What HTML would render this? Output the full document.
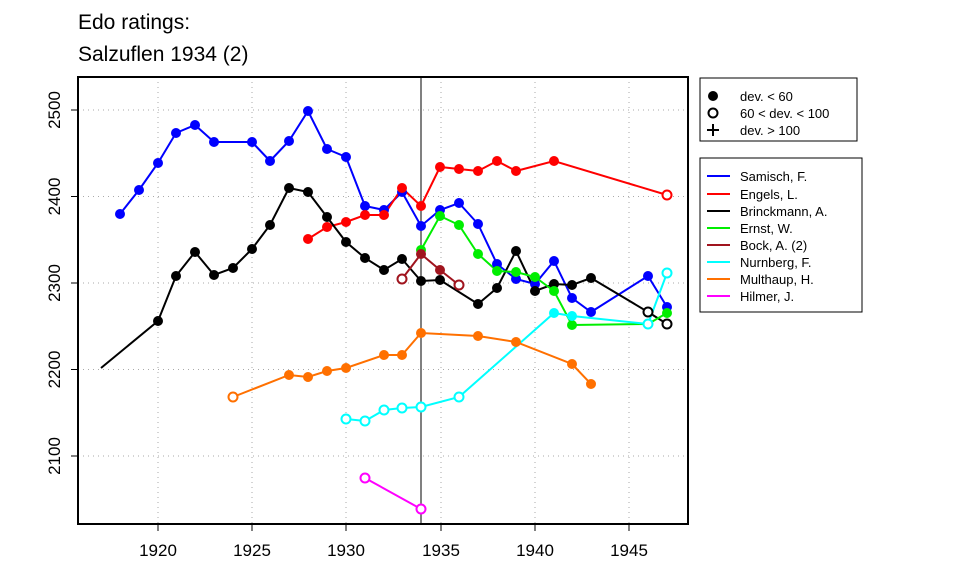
<!DOCTYPE html>
<html><head><meta charset="utf-8"><style>body{margin:0;background:#fff}svg{display:block}text{font-family:"Liberation Sans",sans-serif}</style></head><body>
<svg width="960" height="576" xmlns="http://www.w3.org/2000/svg">
<text x="78" y="29" font-size="21">Edo ratings:</text>
<text x="78" y="61" font-size="21">Salzuflen 1934 (2)</text>
<g stroke="#aaa" stroke-dasharray="1,4" stroke-width="1">
<line x1="158" y1="77" x2="158" y2="524"/><line x1="252" y1="77" x2="252" y2="524"/><line x1="346" y1="77" x2="346" y2="524"/><line x1="441" y1="77" x2="441" y2="524"/><line x1="535" y1="77" x2="535" y2="524"/><line x1="629" y1="77" x2="629" y2="524"/>
<line x1="78" y1="110" x2="688" y2="110"/><line x1="78" y1="196.5" x2="688" y2="196.5"/><line x1="78" y1="283" x2="688" y2="283"/><line x1="78" y1="369.5" x2="688" y2="369.5"/><line x1="78" y1="456" x2="688" y2="456"/>
</g>
<line x1="421" y1="77" x2="421" y2="524" stroke="#000"/>
<rect x="78" y="77" width="610" height="447" fill="none" stroke="#000" stroke-width="2"/>
<g stroke="#000"><line x1="158" y1="524" x2="158" y2="531"/><line x1="252" y1="524" x2="252" y2="531"/><line x1="346" y1="524" x2="346" y2="531"/><line x1="441" y1="524" x2="441" y2="531"/><line x1="535" y1="524" x2="535" y2="531"/><line x1="629" y1="524" x2="629" y2="531"/>
<line x1="71" y1="110" x2="78" y2="110"/><line x1="71" y1="196.5" x2="78" y2="196.5"/><line x1="71" y1="283" x2="78" y2="283"/><line x1="71" y1="369.5" x2="78" y2="369.5"/><line x1="71" y1="456" x2="78" y2="456"/></g>
<g font-size="17" text-anchor="middle"><text x="158" y="556">1920</text><text x="252" y="556">1925</text><text x="346" y="556">1930</text><text x="441" y="556">1935</text><text x="535" y="556">1940</text><text x="629" y="556">1945</text>
<text transform="translate(60,110) rotate(-90)">2500</text><text transform="translate(60,196.5) rotate(-90)">2400</text><text transform="translate(60,283) rotate(-90)">2300</text><text transform="translate(60,369.5) rotate(-90)">2200</text><text transform="translate(60,456) rotate(-90)">2100</text></g>
<g fill="none" stroke-width="2">
<polyline stroke="#0000ff" points="120,214 139,190 158,163 176,133 195,125 214,142 252,142 270,161 289,141 308,111 327,149 346,157 365,206 384,210 402,192 421,226 440,210 459,203 478,224 497,264 516,279 535,284 554,261 572,298 591,312 648,276 667,307"/>
<polyline stroke="#ff0000" points="308,239 327,227 346,222 365,215 384,215 402,188 421,206 440,167 459,169 478,171 497,161 516,171 554,161 667,195"/>
<polyline stroke="#000" points="101,368 158,321 176,276 195,252 214,275 233,268 252,249 270,225 289,188 308,192 327,217 346,242 365,258 384,270 402,259 421,281 440,280 478,304 497,288 516,251 535,291 554,284 572,285 591,278 648,312 667,324"/>
<polyline stroke="#00ee00" points="421,250 440,216 459,225 478,254 497,271 516,272 535,277 554,291 572,325 648,324 667,313"/>
<polyline stroke="#a0141e" points="402,279 421,254 440,270 459,285"/>
<polyline stroke="#00ffff" points="346,419 365,421 384,410 402,408 421,407 459,397 554,313 572,316 648,324 667,273"/>
<polyline stroke="#ff7000" points="233,397 289,375 308,377 327,371 346,368 384,355 402,355 421,333 478,336 516,342 572,364 591,384"/>
<polyline stroke="#ff00ff" points="365,478 421,509"/>
</g>
<g fill="#0000ff"><circle cx="120" cy="214" r="5"/><circle cx="139" cy="190" r="5"/><circle cx="158" cy="163" r="5"/><circle cx="176" cy="133" r="5"/><circle cx="195" cy="125" r="5"/><circle cx="214" cy="142" r="5"/><circle cx="252" cy="142" r="5"/><circle cx="270" cy="161" r="5"/><circle cx="289" cy="141" r="5"/><circle cx="308" cy="111" r="5"/><circle cx="327" cy="149" r="5"/><circle cx="346" cy="157" r="5"/><circle cx="365" cy="206" r="5"/><circle cx="384" cy="210" r="5"/><circle cx="402" cy="192" r="5"/><circle cx="421" cy="226" r="5"/><circle cx="440" cy="210" r="5"/><circle cx="459" cy="203" r="5"/><circle cx="478" cy="224" r="5"/><circle cx="497" cy="264" r="5"/><circle cx="516" cy="279" r="5"/><circle cx="535" cy="284" r="5"/><circle cx="554" cy="261" r="5"/><circle cx="572" cy="298" r="5"/><circle cx="591" cy="312" r="5"/><circle cx="648" cy="276" r="5"/><circle cx="667" cy="307" r="5"/></g>
<g fill="#ff0000"><circle cx="308" cy="239" r="5"/><circle cx="327" cy="227" r="5"/><circle cx="346" cy="222" r="5"/><circle cx="365" cy="215" r="5"/><circle cx="384" cy="215" r="5"/><circle cx="402" cy="188" r="5"/><circle cx="421" cy="206" r="5"/><circle cx="440" cy="167" r="5"/><circle cx="459" cy="169" r="5"/><circle cx="478" cy="171" r="5"/><circle cx="497" cy="161" r="5"/><circle cx="516" cy="171" r="5"/><circle cx="554" cy="161" r="5"/></g>
<g fill="#000"><circle cx="158" cy="321" r="5"/><circle cx="176" cy="276" r="5"/><circle cx="195" cy="252" r="5"/><circle cx="214" cy="275" r="5"/><circle cx="233" cy="268" r="5"/><circle cx="252" cy="249" r="5"/><circle cx="270" cy="225" r="5"/><circle cx="289" cy="188" r="5"/><circle cx="308" cy="192" r="5"/><circle cx="327" cy="217" r="5"/><circle cx="346" cy="242" r="5"/><circle cx="365" cy="258" r="5"/><circle cx="384" cy="270" r="5"/><circle cx="402" cy="259" r="5"/><circle cx="421" cy="281" r="5"/><circle cx="440" cy="280" r="5"/><circle cx="478" cy="304" r="5"/><circle cx="497" cy="288" r="5"/><circle cx="516" cy="251" r="5"/><circle cx="535" cy="291" r="5"/><circle cx="554" cy="284" r="5"/><circle cx="572" cy="285" r="5"/><circle cx="591" cy="278" r="5"/></g>
<g fill="#00ee00"><circle cx="421" cy="250" r="5"/><circle cx="440" cy="216" r="5"/><circle cx="459" cy="225" r="5"/><circle cx="478" cy="254" r="5"/><circle cx="497" cy="271" r="5"/><circle cx="516" cy="272" r="5"/><circle cx="535" cy="277" r="5"/><circle cx="554" cy="291" r="5"/><circle cx="572" cy="325" r="5"/><circle cx="648" cy="324" r="5"/><circle cx="667" cy="313" r="5"/></g>
<g fill="#a0141e"><circle cx="421" cy="254" r="5"/><circle cx="440" cy="270" r="5"/></g>
<g fill="#00ffff"><circle cx="554" cy="313" r="5"/><circle cx="572" cy="316" r="5"/></g>
<g fill="#ff7000"><circle cx="289" cy="375" r="5"/><circle cx="308" cy="377" r="5"/><circle cx="327" cy="371" r="5"/><circle cx="346" cy="368" r="5"/><circle cx="384" cy="355" r="5"/><circle cx="402" cy="355" r="5"/><circle cx="421" cy="333" r="5"/><circle cx="478" cy="336" r="5"/><circle cx="516" cy="342" r="5"/><circle cx="572" cy="364" r="5"/><circle cx="591" cy="384" r="5"/></g>
<g fill="#fff" stroke-width="2">
<circle cx="667" cy="195" r="4.5" stroke="#ff0000"/>
<circle cx="648" cy="312" r="4.5" stroke="#000"/><circle cx="667" cy="324" r="4.5" stroke="#000"/>
<circle cx="402" cy="279" r="4.5" stroke="#a0141e"/><circle cx="459" cy="285" r="4.5" stroke="#a0141e"/>
<circle cx="346" cy="419" r="4.5" stroke="#00ffff"/><circle cx="365" cy="421" r="4.5" stroke="#00ffff"/><circle cx="384" cy="410" r="4.5" stroke="#00ffff"/><circle cx="402" cy="408" r="4.5" stroke="#00ffff"/><circle cx="421" cy="407" r="4.5" stroke="#00ffff"/><circle cx="459" cy="397" r="4.5" stroke="#00ffff"/><circle cx="648" cy="324" r="4.5" stroke="#00ffff"/><circle cx="667" cy="273" r="4.5" stroke="#00ffff"/>
<circle cx="233" cy="397" r="4.5" stroke="#ff7000"/>
<circle cx="365" cy="478" r="4.5" stroke="#ff00ff"/><circle cx="421" cy="509" r="4.5" stroke="#ff00ff"/>
</g>
<rect x="700" y="78" width="157" height="63" fill="#fff" stroke="#000"/>
<circle cx="713" cy="96" r="5" fill="#000"/><circle cx="713" cy="113" r="4.5" fill="none" stroke="#000" stroke-width="2"/>
<path d="M713 124v12M707 130h12" stroke="#000" stroke-width="2"/>
<g font-size="13"><text x="740" y="101">dev. &lt; 60</text><text x="740" y="118">60 &lt; dev. &lt; 100</text><text x="740" y="135">dev. &gt; 100</text></g>
<rect x="700" y="158" width="162" height="154" fill="#fff" stroke="#000"/>
<g stroke-width="2"><line x1="707" y1="176" x2="730" y2="176" stroke="#0000ff"/><line x1="707" y1="194" x2="730" y2="194" stroke="#ff0000"/><line x1="707" y1="211" x2="730" y2="211" stroke="#000"/><line x1="707" y1="228" x2="730" y2="228" stroke="#00ee00"/><line x1="707" y1="245" x2="730" y2="245" stroke="#a0141e"/><line x1="707" y1="262" x2="730" y2="262" stroke="#00ffff"/><line x1="707" y1="279" x2="730" y2="279" stroke="#ff7000"/><line x1="707" y1="296" x2="730" y2="296" stroke="#ff00ff"/></g>
<g font-size="13"><text x="740" y="181">Samisch, F.</text><text x="740" y="199">Engels, L.</text><text x="740" y="216">Brinckmann, A.</text><text x="740" y="233">Ernst, W.</text><text x="740" y="250">Bock, A. (2)</text><text x="740" y="267">Nurnberg, F.</text><text x="740" y="284">Multhaup, H.</text><text x="740" y="301">Hilmer, J.</text></g>
</svg>
</body></html>
